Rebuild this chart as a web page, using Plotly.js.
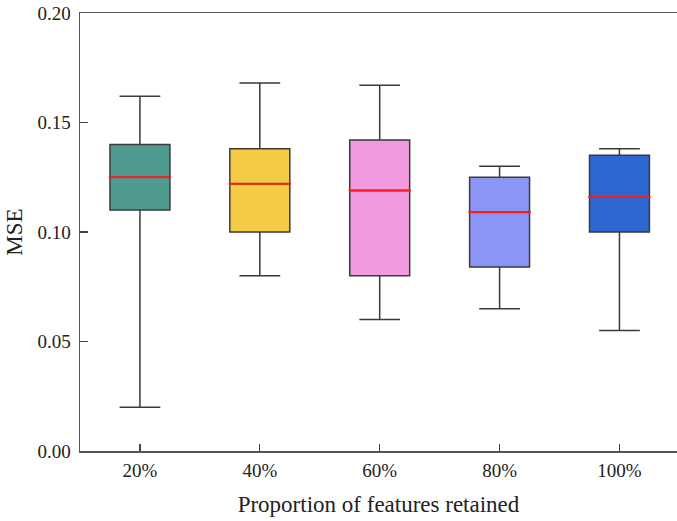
<!DOCTYPE html>
<html>
<head>
<meta charset="utf-8">
<script src="https://cdn.plot.ly/plotly-3.0.1.min.js"></script>
<style>html,body{margin:0;padding:0;background:#fff;}#chart{width:677px;height:521px;}</style>
</head>
<body>
<div id="chart"></div>
<script>
const categories = ["20%", "40%", "60%", "80%", "100%"];
const lowerWhisker = [0.020, 0.080, 0.060, 0.065, 0.055];
const q1Values = [0.110, 0.100, 0.080, 0.084, 0.100];
const medianValues = [0.125, 0.122, 0.119, 0.109, 0.116];
const q3Values = [0.140, 0.138, 0.142, 0.125, 0.135];
const upperWhisker = [0.162, 0.168, 0.167, 0.130, 0.138];
const boxColors = ["#509B8F", "#F5CC45", "#F29AE0", "#8B95F6", "#2D67D1"];
const yTicks = [0.00, 0.05, 0.10, 0.15, 0.20];

const traces = [];
categories.forEach((c, i) => {
  traces.push({
    type: "box",
    x: [i],
    q1: [q1Values[i]],
    median: [medianValues[i]],
    q3: [q3Values[i]],
    lowerfence: [lowerWhisker[i]],
    upperfence: [upperWhisker[i]],
    width: 0.5,
    whiskerwidth: 0.68,
    fillcolor: boxColors[i],
    line: {color: "#3a3a3a", width: 1.5},
    showlegend: false,
    hoverinfo: "skip"
  });
  traces.push({
    type: "box",
    x: [i],
    q1: [medianValues[i]],
    median: [medianValues[i]],
    q3: [medianValues[i]],
    lowerfence: [medianValues[i]],
    upperfence: [medianValues[i]],
    width: 0.52,
    whiskerwidth: 0,
    fillcolor: "rgba(0,0,0,0)",
    line: {color: "#FF1A1A", width: 2},
    showlegend: false,
    hoverinfo: "skip"
  });
});

const layout = {
  width: 677, height: 521,
  margin: {l: 80, r: 0, t: 13, b: 70},
  paper_bgcolor: "#fff", plot_bgcolor: "#fff",
  boxmode: "overlay",
  font: {family: "Liberation Serif, Times New Roman, serif", color: "#222"},
  xaxis: {
    range: [-0.5, 4.48],
    tickmode: "array",
    tickvals: categories.map((c, i) => i),
    ticktext: categories,
    ticks: "inside", ticklen: 7, tickwidth: 1.2, tickcolor: "#444",
    showline: true, linecolor: "#555", linewidth: 1.5, mirror: true,
    showgrid: false, zeroline: false,
    tickfont: {size: 19, color: "#222"},
    ticklabelstandoff: 2,
    title: {text: "Proportion of features retained", font: {size: 23, color: "#222"}, standoff: 15}
  },
  yaxis: {
    range: [0, 0.20],
    tickmode: "array",
    tickvals: yTicks,
    ticktext: yTicks.map(v => v.toFixed(2)),
    ticks: "inside", ticklen: 8, tickwidth: 1.2, tickcolor: "#444",
    showline: true, linecolor: "#555", linewidth: 1.5,
    showgrid: false, zeroline: false,
    tickfont: {size: 19, color: "#222"},
    ticklabelstandoff: 4,
    title: {text: "MSE", font: {size: 23, color: "#222"}, standoff: 8}
  }
};

Plotly.newPlot("chart", traces, layout, {displayModeBar: false, staticPlot: true});
</script>
</body>
</html>
